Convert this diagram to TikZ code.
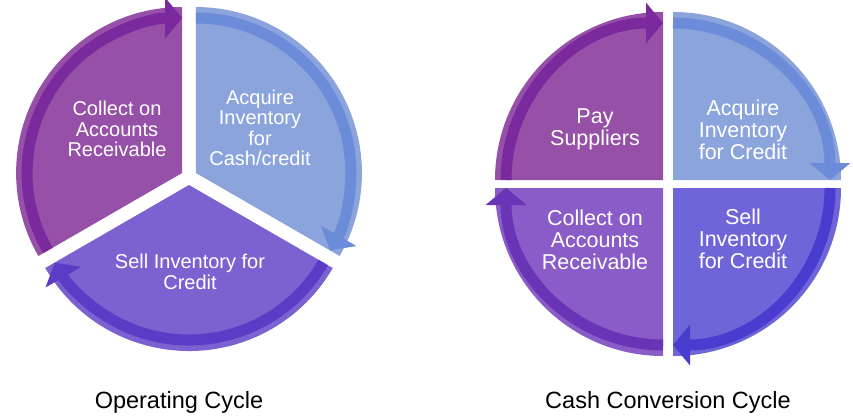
\documentclass[tikz,border=0pt]{standalone}
\usepackage{fontspec}
\setmainfont{Liberation Sans}
\usetikzlibrary{arrows.meta}

\definecolor{plum}{HTML}{9650A8}
\definecolor{plumband}{HTML}{7A2A9C}
\definecolor{sky}{HTML}{8CA4DC}
\definecolor{skyband}{HTML}{6C8CDA}
\definecolor{lilac}{HTML}{7B62D0}
\definecolor{lilacband}{HTML}{5A3CC6}
\definecolor{iris}{HTML}{6E66D8}
\definecolor{irisband}{HTML}{4A3CCE}
\definecolor{orchid}{HTML}{8A5CC8}
\definecolor{orchidband}{HTML}{6A34B6}

\tikzset{
  band/.style={line width=11pt, -{Triangle[length=17pt 0 0, width=40pt 0 0]}},
  cycletext/.style={text=white, align=center, inner sep=0pt},
  smalltext/.style={cycletext, font=\fontsize{20}{20.5}\selectfont},
  bigtext/.style={cycletext, font=\fontsize{21.5}{22}\selectfont},
  caption/.style={anchor=base, font=\fontsize{23.5}{26}\selectfont}
}

\begin{document}
\begin{tikzpicture}[x=1pt, y=1pt]
    \useasboundingbox (0,0) rectangle (853,416);

    \coordinate (collect)  at (182.1,243);
    \coordinate (acquire)  at (195.9,243);
    \coordinate (sell)     at (189,231);

    \fill[plum] (collect) -- ++(90:166) arc[start angle=90, end angle=210, radius=166] -- cycle;
    \fill[sky]  (acquire) -- ++(-30:166) arc[start angle=-30, end angle=90, radius=166] -- cycle;
    \fill[lilac] (sell) -- ++(210:166) arc[start angle=210, end angle=330, radius=166] -- cycle;

    \draw[band, plumband]  ([shift={(210:155)}]collect) arc[start angle=210, end angle=90, radius=155];
    \draw[band, skyband]   ([shift={(90:155)}]acquire) arc[start angle=90, end angle=-30, radius=155];
    \draw[band, lilacband] ([shift={(330:155)}]sell) arc[start angle=330, end angle=210, radius=155];

    \node[smalltext] (tcollect) at (117,287) {Collect on\\Accounts\\Receivable};
    \node[smalltext] (tacquire) at (260,288) {Acquire\\Inventory\\for\\Cash/credit};
    \node[smalltext] (tsell)    at (190,144) {Sell Inventory for\\Credit};

    \coordinate (pay)      at (663,236);
    \coordinate (buy)      at (673,236);
    \coordinate (sale)     at (673,228);
    \coordinate (receive)  at (663,228);

    \fill[plum]   (pay) -- ++(90:168) arc[start angle=90, end angle=180, radius=168] -- cycle;
    \fill[sky]    (buy) -- ++(0:168) arc[start angle=0, end angle=90, radius=168] -- cycle;
    \fill[iris]   (sale) -- ++(270:168) arc[start angle=270, end angle=360, radius=168] -- cycle;
    \fill[orchid] (receive) -- ++(180:168) arc[start angle=180, end angle=270, radius=168] -- cycle;

    \draw[band, plumband]   ([shift={(180:157)}]pay) arc[start angle=180, end angle=90, radius=157];
    \draw[band, skyband]    ([shift={(90:157)}]buy) arc[start angle=90, end angle=0, radius=157];
    \draw[band, irisband]   ([shift={(0:157)}]sale) arc[start angle=360, end angle=270, radius=157];
    \draw[band, orchidband] ([shift={(270:157)}]receive) arc[start angle=270, end angle=180, radius=157];

    \node[bigtext] (tpay)     at (595,287) {Pay\\Suppliers};
    \node[bigtext] (tbuy)     at (743,286) {Acquire\\Inventory\\for Credit};
    \node[bigtext] (tsale)    at (743,177) {Sell\\Inventory\\for Credit};
    \node[bigtext] (treceive) at (595,176) {Collect on\\Accounts\\Receivable};

    \node[caption] (operating)  at (179,8) {Operating Cycle};
    \node[caption] (conversion) at (668,8) {Cash Conversion Cycle};
\end{tikzpicture}
\end{document}
